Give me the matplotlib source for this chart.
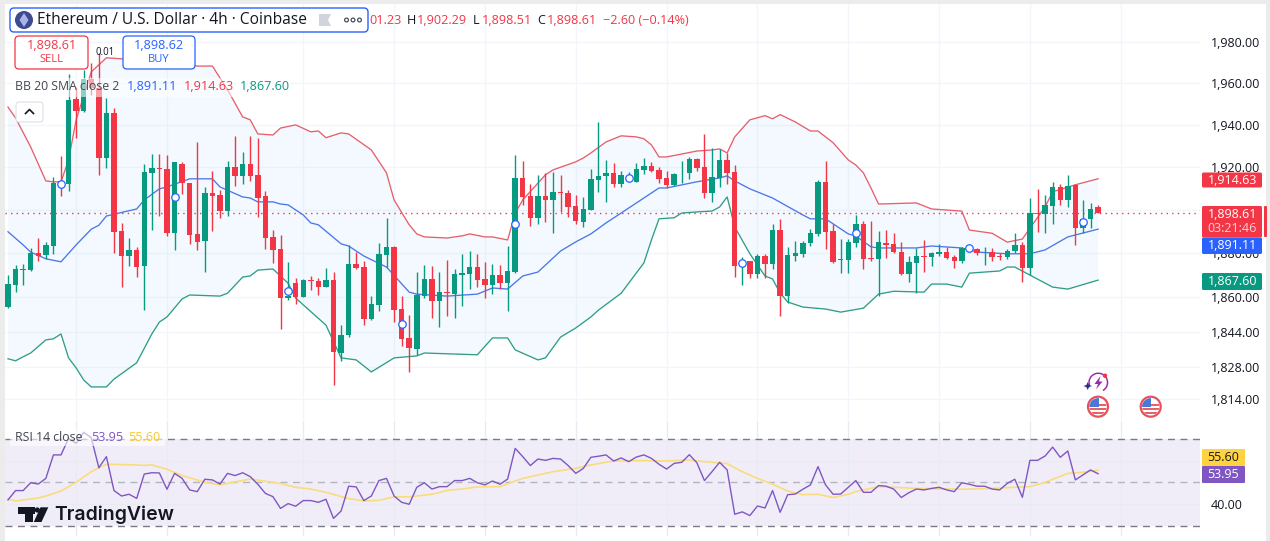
import numpy as np
import matplotlib
matplotlib.use('Agg')
from matplotlib import pyplot as plt
from matplotlib.patches import Rectangle, FancyBboxPatch, Circle, Polygon, Wedge

plt.rcParams['font.family'] = ['Open Sans', 'DejaVu Sans']

# candles, one per 4h bar
open_ = [1855.4, 1865.3, 1872.4, 1872.2, 1880.0, 1879.2, 1883.3, 1913.4, 1912.1, 1952.6,
         1946.8, 1962.1, 1957.6, 1924.5, 1945.9, 1890.2, 1878.7, 1881.5, 1874.2, 1917.2,
         1919.7, 1919.3, 1889.4, 1921.6, 1912.5, 1889.0, 1885.8, 1907.8, 1907.0, 1899.5,
         1920.2, 1916.0, 1921.6, 1916.5, 1906.6, 1887.4, 1882.0, 1859.5, 1866.1, 1860.0,
         1867.6, 1867.1, 1864.5, 1867.6, 1834.7, 1842.6, 1875.0, 1873.5, 1849.9, 1856.2,
         1879.2, 1882.9, 1854.4, 1841.3, 1836.4, 1860.3, 1868.1, 1858.2, 1862.1, 1861.2,
         1870.1, 1870.4, 1873.5, 1868.1, 1865.3, 1869.9, 1866.4, 1871.4, 1914.9, 1906.6,
         1896.4, 1906.6, 1904.7, 1908.5, 1907.8, 1901.9, 1894.6, 1900.1, 1914.2, 1915.7,
         1917.4, 1912.4, 1913.8, 1913.3, 1918.9, 1920.7, 1918.7, 1914.9, 1911.6, 1917.1,
         1917.1, 1924.0, 1920.2, 1908.1, 1914.9, 1923.5, 1917.9, 1873.8, 1876.4, 1870.4,
         1878.7, 1875.0, 1890.7, 1860.4, 1878.9, 1879.8, 1884.6, 1888.9, 1913.2, 1890.2,
         1876.9, 1876.9, 1884.6, 1893.5, 1877.8, 1877.5, 1884.6, 1884.3, 1880.6, 1870.4,
         1875.6, 1878.7, 1878.4, 1879.8, 1880.6, 1878.4, 1876.4, 1881.5, 1881.8, 1880.0,
         1880.5, 1878.6, 1878.0, 1881.0, 1883.8, 1873.3, 1898.7, 1898.1, 1902.0, 1910.8,
         1904.7, 1911.7, 1891.8, 1895.9, 1901.23]
high = [1869.9, 1874.5, 1874.8, 1882.2, 1887.2, 1885.3, 1915.4, 1925.4, 1964.5, 1958.2,
        1966.5, 1969.9, 1974.6, 1953.0, 1948.2, 1893.9, 1887.2, 1883.0, 1921.6, 1926.3,
        1926.3, 1925.9, 1922.6, 1922.4, 1912.7, 1931.9, 1910.7, 1918.3, 1909.4, 1923.0,
        1934.9, 1927.1, 1934.9, 1933.8, 1908.9, 1890.7, 1888.4, 1875.8, 1868.4, 1868.1,
        1869.6, 1868.4, 1873.0, 1871.2, 1847.1, 1883.8, 1880.5, 1876.4, 1860.3, 1884.6,
        1896.1, 1883.3, 1860.3, 1851.7, 1871.4, 1874.5, 1874.1, 1871.4, 1876.9, 1872.5,
        1879.7, 1881.0, 1879.6, 1875.8, 1875.0, 1874.5, 1883.3, 1925.9, 1923.0, 1912.2,
        1916.5, 1917.2, 1918.0, 1916.5, 1909.4, 1907.0, 1905.9, 1919.1, 1941.4, 1923.5,
        1922.2, 1918.3, 1917.7, 1921.9, 1924.3, 1922.7, 1920.0, 1918.3, 1917.5, 1923.0,
        1924.8, 1924.6, 1935.9, 1929.0, 1928.5, 1926.7, 1921.1, 1878.1, 1876.4, 1879.7,
        1879.7, 1893.4, 1895.9, 1882.7, 1885.6, 1885.6, 1891.0, 1914.1, 1923.0, 1893.4,
        1886.4, 1886.4, 1897.7, 1894.9, 1894.9, 1890.2, 1890.7, 1889.2, 1885.3, 1878.7,
        1882.3, 1886.1, 1880.7, 1884.1, 1883.0, 1879.2, 1883.0, 1883.8, 1882.6, 1882.7,
        1882.3, 1880.0, 1881.8, 1889.4, 1885.0, 1905.5, 1909.7, 1907.0, 1913.0, 1912.2,
        1916.5, 1912.2, 1904.7, 1903.1, 1902.29]
low = [1855.1, 1862.2, 1865.3, 1871.9, 1876.6, 1877.2, 1879.7, 1906.6, 1909.1, 1934.1,
       1946.4, 1954.4, 1916.5, 1919.9, 1880.3, 1864.5, 1874.2, 1869.1, 1853.9, 1890.7,
       1897.2, 1888.1, 1881.5, 1907.5, 1884.3, 1881.5, 1871.4, 1890.2, 1896.4, 1897.3,
       1911.0, 1912.2, 1913.8, 1896.9, 1882.0, 1875.6, 1845.4, 1858.5, 1856.5, 1859.9,
       1863.0, 1860.8, 1864.4, 1820.2, 1831.1, 1841.9, 1872.7, 1847.1, 1849.4, 1853.5,
       1873.0, 1848.6, 1837.7, 1826.1, 1833.7, 1859.5, 1850.4, 1846.4, 1851.2, 1850.4,
       1855.9, 1863.5, 1864.5, 1859.5, 1861.2, 1863.5, 1853.5, 1871.0, 1902.4, 1892.7,
       1893.5, 1894.6, 1889.4, 1899.2, 1896.9, 1893.5, 1892.3, 1900.0, 1908.6, 1903.9,
       1910.8, 1910.8, 1913.6, 1913.2, 1916.9, 1917.9, 1912.8, 1910.2, 1911.3, 1912.7,
       1914.6, 1918.3, 1905.8, 1903.9, 1910.7, 1912.2, 1869.1, 1865.4, 1868.4, 1868.8,
       1868.8, 1872.7, 1851.3, 1857.3, 1876.6, 1878.4, 1883.5, 1887.7, 1881.8, 1875.4,
       1871.0, 1871.0, 1882.7, 1872.7, 1876.6, 1860.4, 1877.7, 1880.3, 1869.9, 1866.8,
       1861.9, 1871.4, 1874.2, 1878.7, 1877.4, 1873.3, 1875.4, 1880.6, 1879.2, 1874.5,
       1876.6, 1876.9, 1877.2, 1880.0, 1866.8, 1869.9, 1889.9, 1889.4, 1893.5, 1902.4,
       1901.2, 1883.8, 1889.2, 1891.8, 1898.51]
close = [1865.8, 1872.5, 1872.7, 1880.3, 1878.7, 1883.8, 1912.8, 1911.3, 1952.0, 1946.9,
         1962.1, 1957.6, 1924.5, 1945.9, 1889.9, 1878.7, 1881.5, 1873.8, 1917.7, 1919.7,
         1919.1, 1889.4, 1922.4, 1912.5, 1888.4, 1885.3, 1907.8, 1906.7, 1899.5, 1920.2,
         1915.7, 1921.6, 1916.0, 1905.8, 1887.2, 1881.5, 1859.5, 1860.4, 1860.0, 1867.6,
         1867.1, 1864.5, 1867.6, 1835.1, 1842.6, 1875.0, 1873.3, 1849.9, 1856.7, 1879.7,
         1882.9, 1853.9, 1840.9, 1836.8, 1860.8, 1868.1, 1858.2, 1862.0, 1861.6, 1870.4,
         1870.9, 1873.5, 1867.6, 1865.3, 1869.9, 1866.4, 1871.8, 1914.9, 1906.3, 1896.4,
         1906.6, 1904.7, 1908.5, 1907.8, 1901.6, 1895.1, 1900.5, 1914.6, 1916.0, 1917.4,
         1912.4, 1916.5, 1915.5, 1919.1, 1920.7, 1918.5, 1914.6, 1911.8, 1916.9, 1917.5,
         1924.0, 1919.9, 1908.1, 1915.4, 1923.5, 1917.5, 1874.3, 1875.8, 1870.4, 1878.9,
         1875.0, 1890.7, 1860.4, 1879.2, 1880.1, 1884.6, 1889.3, 1913.2, 1889.9, 1875.8,
         1877.4, 1885.2, 1893.5, 1877.5, 1877.4, 1885.2, 1883.9, 1880.6, 1870.4, 1875.9,
         1878.6, 1878.3, 1880.1, 1880.6, 1877.7, 1876.6, 1882.4, 1882.9, 1880.0, 1880.3,
         1878.3, 1878.3, 1881.2, 1883.8, 1873.0, 1898.4, 1898.1, 1902.4, 1910.8, 1904.7,
         1911.3, 1891.8, 1895.9, 1900.3, 1898.61]

# bollinger bands, read at the bends only
upper_i = [0, 1, 3, 5, 6, 7, 8, 9, 11, 13, 15, 18, 20, 25, 27, 29, 31, 32, 33, 35, 36, 38, 40, 41, 42, 44, 45,
           48, 50, 51, 53, 54, 55, 58, 60, 61, 63, 64, 66, 67, 68, 71, 72, 75, 76, 77, 79, 81, 83, 84, 85, 86,
           87, 89, 91, 93, 94, 95, 96, 98, 100, 101, 102, 104, 106, 107, 109, 111, 112, 113, 114, 115, 120,
           122, 126, 127, 130, 132, 134, 135, 137, 138, 141, 144]
upper_v = [1948.6, 1943.4, 1929.6, 1913.6, 1913.2, 1913.2, 1923.5, 1942.5, 1965.5, 1972.3, 1971.8, 1971.3, 1970.8,
           1968.3, 1968.3, 1956.9, 1943.9, 1942.5, 1935.8, 1935.3, 1938.6, 1940.1, 1936.8, 1937.2, 1934.0, 1936.3,
           1935.8, 1928.2, 1917.4, 1904.7, 1893.1, 1888.9, 1887.5, 1887.0, 1888.0, 1888.9, 1887.5, 1887.5, 1886.1,
           1898.6, 1904.7, 1916.5, 1918.8, 1922.6, 1924.4, 1926.8, 1932.0, 1934.9, 1934.4, 1933.5, 1930.6, 1924.9,
           1924.9, 1926.3, 1927.7, 1928.2, 1928.7, 1926.8, 1934.4, 1942.5, 1944.5, 1943.0, 1945.0, 1941.5, 1937.2,
           1937.2, 1931.6, 1923.5, 1921.1, 1917.4, 1910.3, 1902.8, 1903.3, 1900.5, 1899.5, 1890.7, 1889.2, 1885.1,
           1886.5, 1891.6, 1901.4, 1908.5, 1911.8, 1914.63]
mid_i = [0, 2, 3, 5, 7, 9, 11, 12, 13, 17, 18, 20, 21, 24, 27, 28, 31, 32, 33, 35, 36, 37, 39, 40, 41, 44, 45, 47,
         50, 53, 54, 58, 62, 64, 66, 68, 70, 73, 75, 77, 79, 81, 86, 87, 91, 94, 95, 96, 98, 101, 105, 106, 108,
         111, 112, 114, 115, 120, 122, 126, 128, 132, 135, 137, 140, 144]
mid_v = [1889.9, 1883.8, 1880.5, 1877.4, 1876.0, 1883.8, 1891.1, 1892.9, 1897.2, 1900.5, 1904.7, 1909.9, 1910.8,
         1914.6, 1914.6, 1910.8, 1906.1, 1905.6, 1903.8, 1903.8, 1902.8, 1902.4, 1897.7, 1894.0, 1893.1, 1884.3,
         1883.3, 1878.7, 1873.6, 1862.1, 1861.2, 1860.3, 1861.2, 1864.0, 1863.5, 1869.5, 1871.3, 1881.0, 1885.2,
         1888.9, 1894.0, 1898.6, 1910.3, 1910.3, 1913.2, 1915.0, 1916.0, 1913.6, 1909.9, 1905.6, 1897.7, 1895.9,
         1895.9, 1888.9, 1887.9, 1882.9, 1882.4, 1882.4, 1883.3, 1882.4, 1880.5, 1879.7, 1879.7, 1881.5, 1887.5,
         1891.11]
lower_i = [0, 1, 2, 3, 5, 6, 7, 8, 9, 10, 11, 13, 14, 17, 19, 20, 21, 23, 24, 28, 29, 31, 32, 33, 35, 37, 38, 42,
           44, 46, 48, 51, 54, 55, 62, 64, 66, 67, 70, 71, 73, 75, 77, 78, 81, 84, 85, 86, 88, 89, 91, 93, 94, 95,
           96, 98, 100, 101, 102, 103, 105, 108, 110, 113, 115, 117, 121, 122, 124, 126, 127, 131, 132, 133, 135,
           138, 140, 144]
lower_v = [1831.9, 1831.0, 1832.8, 1834.5, 1840.4, 1840.9, 1843.1, 1832.3, 1827.8, 1822.4, 1819.3, 1819.3, 1822.8,
           1830.1, 1843.1, 1848.5, 1850.8, 1859.0, 1860.8, 1860.3, 1861.6, 1869.0, 1869.5, 1872.2, 1872.7, 1866.2,
           1859.4, 1847.1, 1832.3, 1831.4, 1826.0, 1832.3, 1833.2, 1834.5, 1833.7, 1841.3, 1841.3, 1835.9, 1831.4,
           1832.3, 1841.7, 1845.8, 1850.8, 1853.9, 1861.6, 1875.5, 1886.1, 1895.9, 1896.4, 1898.6, 1899.1, 1899.5,
           1901.4, 1906.1, 1892.1, 1879.7, 1869.5, 1868.1, 1861.6, 1857.6, 1855.3, 1854.4, 1853.0, 1854.8, 1861.2,
           1862.5, 1862.1, 1865.8, 1865.8, 1864.4, 1870.8, 1871.8, 1873.6, 1873.6, 1869.9, 1864.4, 1863.5, 1867.60]

# the round dots sitting on every 15th bar
dot_i = [7, 22, 37, 52, 67, 82, 97, 112, 127, 142]
dot_v = [1912.2, 1906.1, 1862.7, 1847.6, 1893.5, 1914.8, 1875.3, 1889.2, 1882.2, 1894.5]

rsi = [41.9, 46.2, 46.2, 49.8, 49.2, 51.8, 62.6, 62.6, 70.2, 67.9, 73.0, 70.5, 56.7, 61.8, 46.2, 43.7, 44.5, 42.6,
       53.8, 54.4, 54.3, 46.8, 54.1, 51.8, 46.5, 45.7, 51.4, 51.1, 49.2, 54.1, 53.1, 54.4, 52.6, 49.1, 44.9, 43.4,
       38.0, 40.2, 39.0, 41.6, 41.6, 40.8, 42.2, 33.4, 36.8, 48.2, 47.9, 41.6, 43.7, 50.8, 51.8, 43.7, 40.8, 39.9,
       47.7, 49.8, 46.9, 48.0, 48.0, 50.8, 50.8, 51.8, 49.8, 48.8, 50.6, 49.1, 51.5, 65.6, 61.8, 57.7, 60.7, 60.1,
       61.0, 60.7, 57.7, 54.1, 56.4, 61.5, 62.0, 62.6, 59.8, 61.2, 59.5, 61.6, 62.6, 61.0, 58.3, 56.1, 58.7, 59.2,
       62.7, 59.0, 50.8, 54.9, 59.2, 55.7, 35.3, 36.4, 34.7, 39.1, 38.2, 46.2, 36.2, 44.3, 44.6, 46.8, 48.8, 57.2,
       48.8, 44.5, 44.6, 47.7, 50.8, 45.4, 45.4, 48.5, 48.2, 46.9, 43.0, 45.2, 46.9, 46.5, 47.2, 47.7, 46.5, 45.7,
       49.8, 49.1, 48.2, 48.2, 46.9, 46.5, 49.5, 51.4, 43.1, 60.1, 60.1, 62.1, 66.2, 61.5, 64.4, 51.1, 53.4, 55.7,
       53.95]
rsi_ma_i = [0, 1, 4, 5, 7, 9, 11, 13, 16, 18, 19, 21, 23, 26, 28, 30, 32, 34, 36, 38, 40, 42, 45, 47, 49, 51, 53,
            56, 58, 60, 62, 65, 67, 68, 72, 75, 77, 80, 84, 87, 90, 92, 95, 97, 99, 101, 103, 105, 107, 109, 111,
            112, 115, 120, 126, 130, 135, 137, 140, 142, 144]
rsi_ma_v = [42.3, 41.4, 42.8, 43.7, 46.0, 50.0, 54.9, 58.3, 58.1, 57.8, 58.0, 56.0, 53.1, 50.0, 48.8, 50.2, 51.5,
            50.5, 49.4, 47.7, 46.9, 45.4, 42.5, 41.4, 41.7, 43.3, 43.3, 44.5, 46.3, 46.9, 47.9, 48.0, 50.6, 51.8,
            54.9, 56.4, 58.0, 59.8, 60.0, 59.8, 60.3, 59.5, 58.6, 54.9, 51.8, 49.1, 46.0, 44.3, 44.5, 43.0, 44.5,
            45.7, 48.0, 47.2, 46.8, 47.2, 48.0, 50.0, 54.1, 54.6, 55.60]

price_ticks = [1980, 1960, 1940, 1920, 1900, 1880, 1860, 1844, 1828, 1814]
time_grid = [9, 21, 39, 51, 63, 75, 87, 99, 111, 123, 135, 147]

GREEN = '#089981'
RED = '#f23645'
BLUE = '#2962ff'
PURPLE = '#7e57c2'
YELLOW = '#f9dc7c'
GRID = '#f3f5fa'
INK = '#131722'

W, H = 1270, 541
BAR_W = 7.57
X0 = 8.0


def px_axes(left, top, right, bottom):
    return fig.add_axes([left / W, 1 - bottom / H, (right - left) / W, (bottom - top) / H])


def index_limits(left, right):
    return (left - X0) / BAR_W, (right - X0) / BAR_W


fig = plt.figure(figsize=(W / 100, H / 100), dpi=100, facecolor='white')

# price pane, log scale as on the chart
ax = px_axes(5, 4, 1200, 420)
ax.set_yscale('log')
ax.set_xlim(*index_limits(5, 1200))
ax.set_ylim(1804.6, 1998.5)
ax.yaxis.tick_right()
ax.set_yticks(price_ticks)
# 1,900.00 lies wholly under the last price tag
ax.set_yticklabels(['' if t == 1900 else f'{t:,.2f}' for t in price_ticks])
ax.minorticks_off()
ax.set_xticks(time_grid)
ax.tick_params(axis='both', length=0, labelbottom=False)
ax.tick_params(axis='y', pad=8, labelsize=9.0, labelcolor=INK)
ax.grid(color=GRID, lw=1)
ax.set_axisbelow(True)
for s in ax.spines.values():
    s.set_visible(False)

ax.fill(upper_i + lower_i[::-1], upper_v + lower_v[::-1], color='#2196f3', alpha=0.05, lw=0, zorder=1)
ax.plot(upper_i, upper_v, color='#e6606c', lw=0.95, zorder=2)
ax.plot(mid_i, mid_v, color='#4a78ea', lw=0.95, zorder=2)
ax.plot(lower_i, lower_v, color='#2f9e85', lw=0.95, zorder=2)

idx = np.arange(len(open_))
op, hi, lo, cl = map(np.array, (open_, high, low, close))
colors = np.where(cl >= op, GREEN, RED)
ax.vlines(idx, lo, hi, colors=colors, lw=1.0, zorder=3)
ax.bar(idx, np.abs(cl - op), bottom=np.minimum(op, cl), width=0.72, color=colors, lw=0, zorder=4)

ax.axhline(close[-1], color=RED, ls=(0, (1, 3)), lw=1, zorder=3)
ax.plot(dot_i, dot_v, ls='none', marker='o', ms=5.4, mfc='white', mec=BLUE, mew=0.9, zorder=5)

# rsi pane
rs = px_axes(5, 421, 1200, 536)
rs.set_xlim(*index_limits(5, 1200))
rs.set_ylim(25.3, 78.2)
rs.set_xticks(time_grid)
rs.yaxis.tick_right()
rs.set_yticks([40, 60])
# 60.00 lies under the yellow tag
rs.set_yticklabels(['40.00', ''])
rs.tick_params(axis='both', length=0, labelbottom=False)
rs.tick_params(axis='y', pad=8, labelsize=9.0, labelcolor=INK)
rs.grid(color='#e9ebf2', lw=1)
rs.set_axisbelow(True)
for s in rs.spines.values():
    s.set_visible(False)
rs.axhspan(30, 70, color=PURPLE, alpha=0.1, lw=0, zorder=0.5)
rs.axhline(70, color='#787b86', ls=(0, (5, 4)), lw=1)
rs.axhline(50, color='#b2b5be', ls=(0, (5, 4)), lw=1)
rs.axhline(30, color='#787b86', ls=(0, (5, 4)), lw=1)
rs.plot(rsi_ma_i, rsi_ma_v, color=YELLOW, lw=1.2, zorder=3)
rs.plot(idx, rsi, color=PURPLE, lw=1.0, zorder=4)

# overlay for everything the app paints in pixels: header, buttons, tags, icons
ui = fig.add_axes([0, 0, 1, 1], zorder=10)
ui.set_xlim(0, W)
ui.set_ylim(H, 0)
ui.axis('off')
ui.patch.set_alpha(0)


def box(x0, y0, x1, y1, fc, ec='none', r=3, lw=1, alpha=None, z=2):
    ui.add_patch(FancyBboxPatch((x0 + r, y0 + r), x1 - x0 - 2 * r, y1 - y0 - 2 * r,
                                boxstyle=f'round,pad={r},rounding_size={r}', fc=fc, ec=ec, lw=lw,
                                alpha=alpha, zorder=z))


def label(x, y, s, color=INK, size=9.1, ha='left', weight='normal', z=5):
    return ui.text(x, y, s, color=color, fontsize=size, ha=ha, va='center', fontweight=weight, zorder=z)


# app chrome at the edges
ui.add_patch(Rectangle((0, 0), W, 4, fc='#ececec', lw=0))
ui.add_patch(Rectangle((0, 0), 5, H, fc='#ececec', lw=0))
ui.add_patch(Rectangle((1266, 0), 4, H, fc='#ececec', lw=0))

# header
box(10, 8, 368, 32, 'white', BLUE, r=4, lw=1)
ui.add_patch(Circle((24, 20), 9, fc='#3d4a8f', lw=0, zorder=3))
ui.add_patch(Polygon([(24, 13), (28.5, 20), (24, 27), (19.5, 20)], fc='#a8b4e8', lw=0, zorder=4))
label(37, 20, 'Ethereum / U.S. Dollar · 4h · Coinbase', size=11.2)
ui.add_patch(Polygon([(319, 14), (331, 14), (328, 20), (331, 26), (319, 26)], fc='#d1d4dc', lw=0, zorder=3))
for cx in (346.5, 353, 359.5):
    ui.add_patch(Circle((cx, 20), 1.9, fc='white', ec='#4a4e5a', lw=0.9, zorder=3))

label(369, 20, '01.23', RED)
label(407, 20, 'H')
label(417, 20, '1,902.29', RED)
label(473, 20, 'L')
label(482, 20, '1,898.51', RED)
label(537, 20, 'C')
label(547, 20, '1,898.61', RED)
label(603, 20, '−2.60 (−0.14%)', RED)

# sell / buy
box(15, 36, 88, 69, 'white', RED, r=4, lw=0.9)
label(51.5, 45.5, '1,898.61', RED, 9.1, ha='center')
label(51.5, 60, 'SELL', RED, 8.0, ha='center')
box(123, 36, 195, 69, 'white', BLUE, r=4, lw=0.9)
label(159, 45.5, '1,898.62', BLUE, 9.1, ha='center')
label(159, 60, 'BUY', BLUE, 8.0, ha='center')
label(105.5, 52.5, '0.01', INK, 6.9, ha='center')

# bb legend sits on a veil that fades the candles underneath
ui.add_patch(Rectangle((13, 78), 278, 19, fc='white', alpha=0.55, lw=0, zorder=1))
label(15, 87, 'BB 20 SMA close 2', '#434651', 8.8)
label(127, 87, '1,891.11', BLUE)
label(183.5, 87, '1,914.63', RED)
label(240, 87, '1,867.60', GREEN)
box(16, 102, 43, 122, 'white', '#e0e3eb', r=3, lw=0.9)
ui.plot([25.5, 29.5, 33.5], [113.5, 109.5, 113.5], color=INK, lw=1.2, zorder=4)

# price tags on the scale
box(1202, 172.5, 1262, 187.5, RED, r=1.5)
label(1232.5, 180, '1,914.63', 'white', 9.0, ha='center')
box(1202, 206, 1262, 237.5, RED, r=1.5)
label(1232.5, 214, '1,898.61', 'white', 9.0, ha='center')
label(1232.5, 228, '03:21:46', '#fbd0d4', 9.0, ha='center')
box(1264, 206, 1267, 237, RED, r=1)
box(1202, 237.5, 1262, 254, BLUE, r=1.5)
label(1232.5, 245.5, '1,891.11', 'white', 9.0, ha='center')
box(1202, 273, 1262, 290, GREEN, r=1.5)
label(1232.5, 281.5, '1,867.60', 'white', 9.0, ha='center')

# icons at the bottom of the price pane
ui.add_patch(Wedge((1098.3, 382.5), 10, -200, 60, width=1.5, fc='#9c27b0', lw=0, zorder=3))
ui.add_patch(Polygon([(1100.5, 376), (1094.5, 384), (1098, 384), (1096, 389.5), (1102.5, 381.5), (1099, 381.5)],
                     fc='#9c27b0', lw=0, zorder=3))
ui.add_patch(Circle((1105, 375.7), 2.2, fc=RED, lw=0, zorder=4))
ui.add_patch(Polygon([(1087.7, 382), (1089, 385), (1092, 386), (1089, 387.2), (1087.7, 390), (1086.4, 387.2),
                      (1083.5, 386), (1086.4, 385)], fc='#2a2e8f', lw=0, zorder=4))
for cx in (1098, 1150.7):
    ring = Circle((cx, 406.7), 8.6, transform=ui.transData)
    ui.add_patch(Circle((cx, 406.7), 10, fc='white', ec='#e8505b', lw=1.6, zorder=3))
    for sy in (403.5, 407.5, 411.5):
        ui.add_patch(Rectangle((cx - 9, sy), 18, 2.2, fc='#e8606a', lw=0, zorder=4, clip_path=ring))
    ui.add_patch(Rectangle((cx - 9, 398), 9.5, 9, fc='#4a78d8', lw=0, zorder=5, clip_path=ring))

# rsi legend
ui.add_patch(Rectangle((10, 429), 155, 17, fc='white', alpha=0.6, lw=0, zorder=1))
label(15, 437.5, 'RSI 14 close', '#434651', 8.8)
label(91, 437.5, '53.95', PURPLE)
label(128, 437.5, '55.60', '#f7c92f')

# rsi tags
box(1202, 449, 1245, 466, '#ffd23f', r=1)
label(1223.5, 457.5, '55.60', INK, 9.0, ha='center')
box(1202, 466, 1245, 483, PURPLE, r=1)
label(1223.5, 474.5, '53.95', 'white', 9.0, ha='center')

# logo
ui.add_patch(Polygon([(18, 507.3), (34.5, 507.3), (34.5, 514), (32.5, 514), (32.5, 522), (25, 522), (25, 514), (18, 514)],
                     fc=INK, lw=0, zorder=4))
ui.add_patch(Circle((37.3, 510), 2.6, fc=INK, lw=0, zorder=4))
ui.add_patch(Polygon([(40.5, 507.3), (48.3, 507.3), (41.5, 522), (33.8, 522)], fc=INK, lw=0, zorder=4))
ui.text(54, 515, 'TradingView', color=INK, fontsize=14.0, fontweight='semibold', family=['Inter', 'DejaVu Sans'],
        va='center', ha='left', zorder=5)

plt.savefig('out.png', dpi=100)
